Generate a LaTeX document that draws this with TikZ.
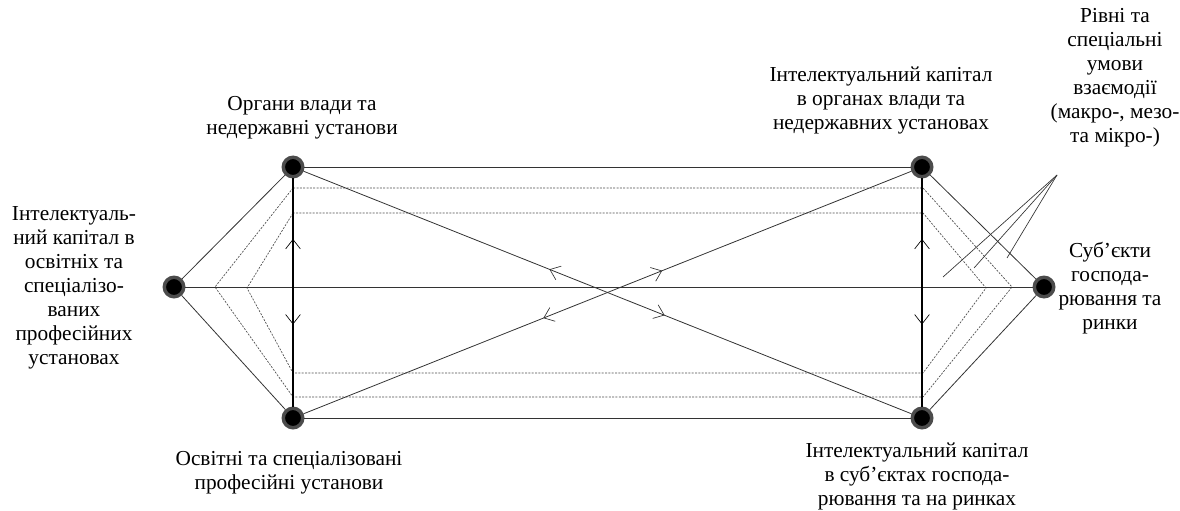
\documentclass[tikz,border=0pt]{standalone}
\usepackage{fontspec}
\setmainfont{Liberation Serif}
\newfontfamily\lblfont{Liberation Serif}
\usetikzlibrary{arrows.meta,decorations.markings}

\begin{document}
\begin{tikzpicture}[x=0.75pt,y=-0.75pt,
  >={Straight Barb[length=7pt,width=11pt,line width=0.5pt]},
  dot/.style={circle,fill=black,draw=black!70,line width=2.6pt,minimum size=14.6pt,inner sep=0pt},
  lbl/.style={align=center,font=\lblfont\fontsize{16}{18}\selectfont},
  link/.style={draw=black!80,line width=0.6pt},
  vert/.style={draw=black,line width=1.1pt},
  dots/.style={draw=black!70,line width=0.5pt,dash pattern=on 1.5pt off 1pt},
  ptr/.style={draw=black!80,line width=0.5pt},
  midarr/.style 2 args={postaction={decorate},decoration={markings,
    mark=at position #1 with {\arrow{<}},mark=at position #2 with {\arrow{>}}}}]
\useasboundingbox (0,0) rectangle (1180,510);

% Пунктирні контури
\draw[dots] (293,188) -- (215,287) -- (293,397) -- (923,397) -- (1012,287) -- (923,188) -- cycle;
\draw[dots] (293,213) -- (247,288) -- (293,373) -- (923,373) -- (986,288) -- (923,213) -- cycle;

% Вузли
\node[dot] (ikosv) at (174,287) {};
\node[dot] (org) at (293,167) {};
\node[dot] (osv) at (293,418) {};
\node[dot] (ikorg) at (922,167) {};
\node[dot] (iksub) at (922,418) {};
\node[dot] (sub) at (1044,287) {};

% Зв'язки
\draw[link] (ikosv) -- (org);
\draw[link] (ikosv) -- (osv);
\draw[link] (ikosv) -- (sub);
\draw[link] (org) -- (ikorg);
\draw[link] (osv) -- (iksub);
\draw[link] (ikorg) -- (sub);
\draw[link] (iksub) -- (sub);
\draw[link,midarr={0.42}{0.594}] (org) -- (iksub);
\draw[link,midarr={0.41}{0.59}] (osv) -- (ikorg);
\draw[vert,midarr={0.31}{0.64}] (org) -- (osv);
\draw[vert,midarr={0.31}{0.64}] (ikorg) -- (iksub);

% Рівні взаємодії
\coordinate (tip) at (1057,175);
\coordinate (p1) at (943,277);
\coordinate (p2) at (974,268);
\coordinate (p3) at (1007,258);
\draw[ptr] (tip) -- (p1);
\draw[ptr] (tip) -- (p2);
\draw[ptr] (tip) -- (p3);

% Підписи
\node[lbl] (lorg) at (302,118) {Органи влади та\\недержавні установи};
\node[lbl] (losv) at (289,473) {Освітні та спеціалізовані\\професійні установи};
\node[lbl] (likorg) at (881,100) {Інтелектуальний капітал\\в органах влади та\\недержавних установах};
\node[lbl] (liksub) at (917,476) {Інтелектуальний капітал\\в суб’єктах господа-\\рювання та на ринках};
\node[lbl] (likosv) at (74,288) {Інтелектуаль-\\ний капітал в\\освітніх та\\спеціалізо-\\ваних\\професійних\\установах};
\node[lbl] (lsub) at (1110,288) {Суб’єкти\\господа-\\рювання та\\ринки};
\node[lbl] (lrivni) at (1115,78) {Рівні та\\спеціальні\\умови\\взаємодії\\(макро-, мезо-\\та мікро-)};
\end{tikzpicture}
\end{document}
